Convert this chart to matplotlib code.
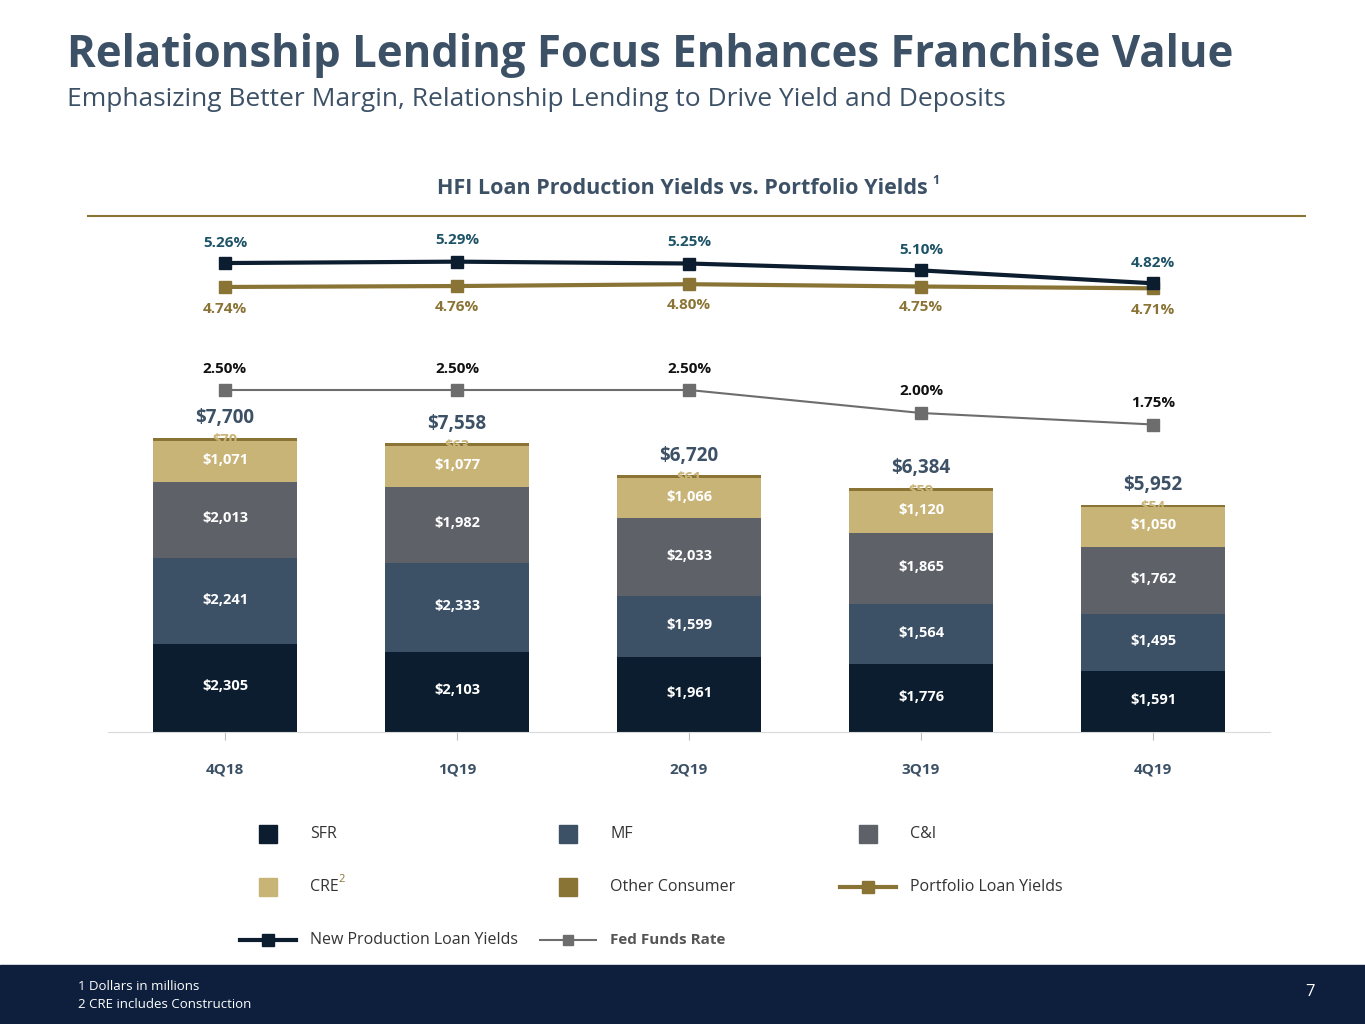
import matplotlib
matplotlib.use("Agg")
import matplotlib.pyplot as plt
from matplotlib.patches import Rectangle
from matplotlib.lines import Line2D

quarters = ["4Q18", "1Q19", "2Q19", "3Q19", "4Q19"]
sfr = [2305, 2103, 1961, 1776, 1591]
mf = [2241, 2333, 1599, 1564, 1495]
cni = [2013, 1982, 2033, 1865, 1762]
cre = [1071, 1077, 1066, 1120, 1050]
other = [70, 63, 61, 59, 54]
totals = [7700, 7558, 6720, 6384, 5952]
new_prod = [5.26, 5.29, 5.25, 5.10, 4.82]
portfolio = [4.74, 4.76, 4.80, 4.75, 4.71]
fed = [2.50, 2.50, 2.50, 2.00, 1.75]

C_SFR = "#0b1d2e"; C_MF = "#3c5066"; C_CNI = "#5e6168"; C_CRE = "#c9b478"; C_OTH = "#8a7435"
C_FED = "#6d6d6d"; C_TITLE = "#3d5166"
W, H = 1365, 1024
fig = plt.figure(figsize=(13.65, 10.24), dpi=100)
fam = ["Open Sans", "DejaVu Sans"]

def px(x, y):
    return x / W, 1 - y / H

fig.text(*px(67, 55), "Relationship Lending Focus Enhances Franchise Value", fontsize=31.5, fontweight="bold", color=C_TITLE, va="center", family=fam)
fig.text(*px(67, 99), "Emphasizing Better Margin, Relationship Lending to Drive Yield and Deposits", fontsize=19, color=C_TITLE, va="center", family=fam)
fig.text(*px(682, 188), "HFI Loan Production Yields vs. Portfolio Yields", fontsize=15.5, fontweight="bold", color=C_TITLE, ha="center", va="center", family=fam)
fig.text(*px(932, 180), "1", fontsize=9, fontweight="bold", color=C_TITLE, va="center", family=fam)
fig.add_artist(Line2D([88 / W, 1305 / W], [1 - 216 / H] * 2, color="#8a7435", lw=1.5))

ax = fig.add_axes([108 / W, 1 - 732 / H, 1162 / W, 532 / H])
xs = list(range(5))
bw = 0.62
ymax = 532 * 7700 / 294
ax.set_xlim(-0.504, 4.504); ax.set_ylim(0, ymax)
bottom = [0] * 5
for vals, col in [(sfr, C_SFR), (mf, C_MF), (cni, C_CNI), (cre, C_CRE), (other, C_OTH)]:
    ax.bar(xs, vals, bw, bottom=bottom, color=col, zorder=2)
    if col != C_OTH:
        for i, v in enumerate(vals):
            ax.text(i, bottom[i] + v / 2 + 40, f"${v:,}", color="white", ha="center", va="center", fontsize=10.5, fontweight="bold", family=fam, zorder=5)
    bottom = [b + v for b, v in zip(bottom, vals)]
for i, t in enumerate(totals):
    ax.text(i, t + 520, f"${t:,}", color=C_TITLE, ha="center", va="center", fontsize=13.5, fontweight="bold", family=fam)
for s in ["top", "left", "right"]:
    ax.spines[s].set_visible(False)
ax.spines["bottom"].set_color("#d9d9d9")
ax.set_yticks([])
ax.set_xticks(xs)
ax.set_xticklabels(quarters, fontsize=11, fontweight="bold", color=C_TITLE, family=fam)
ax.tick_params(axis="x", length=6, color="#bfbfbf", pad=16, direction="out")

ax2 = ax.twinx()
ax2.set_ylim(2.5 - 342 / 46, 2.5 + 190 / 46)
ax2.axis("off")
ax2.plot(xs, new_prod, color=C_SFR, lw=3, marker="s", ms=9, zorder=4)
ax2.plot(xs, portfolio, color=C_OTH, lw=3, marker="s", ms=9, zorder=3)
ax2.plot(xs, fed, color=C_FED, lw=1.5, marker="s", ms=8, zorder=3)
np_dy = [0.44, 0.47, 0.47, 0.44, 0.45]
pf_dy = [0.47, 0.46, 0.45, 0.45, 0.47]
fd_dy = [0.45, 0.45, 0.45, 0.47, 0.47]
for i in range(5):
    ax2.text(i, new_prod[i] + np_dy[i], f"{new_prod[i]:.2f}%", ha="center", va="center", color="#1d5366", fontsize=11, fontweight="bold", family=fam)
    ax2.text(i, portfolio[i] - pf_dy[i], f"{portfolio[i]:.2f}%", ha="center", va="center", color=C_OTH, fontsize=11, fontweight="bold", family=fam)
    ax2.text(i, fed[i] + fd_dy[i], f"{fed[i]:.2f}%", ha="center", va="center", color="#111111", fontsize=11, fontweight="bold", family=fam)
for i, v in enumerate(other):
    ax.text(i, bottom[i] - 60, f"${v:,}", color=C_CRE, ha="center", va="center", fontsize=10.5, fontweight="bold", family=fam, zorder=6)

# legend
def box(x, y, col):
    fig.add_artist(Rectangle(((x - 9) / W, 1 - (y + 9) / H), 18 / W, 18 / H, color=col))
def line(x, y, col, lw, ms):
    fig.add_artist(Line2D([(x - 28) / W, (x + 28) / W], [1 - y / H] * 2, color=col, lw=lw))
    fig.add_artist(Line2D([x / W], [1 - y / H], color=col, marker="s", ms=ms))
def lab(x, y, t, bold=False, col="#333333"):
    fig.text(x / W, 1 - y / H, t, fontsize=11.5, va="center", color=col, family=fam, fontweight="bold" if bold else "normal")
box(268, 834, C_SFR); lab(310, 834, "SFR")
box(568, 834, C_MF); lab(610, 834, "MF")
box(868, 834, C_CNI); lab(910, 834, "C&I")
box(268, 887, C_CRE); lab(310, 887, "CRE")
fig.text(338 / W, 1 - 879 / H, "2", fontsize=8, va="center", color=C_OTH, family=fam)
box(568, 887, C_OTH); lab(610, 887, "Other Consumer")
line(868, 887, C_OTH, 3, 8); lab(910, 887, "Portfolio Loan Yields")
line(268, 940, C_SFR, 3, 8); lab(310, 940, "New Production Loan Yields")
line(568, 940, C_FED, 1.5, 7)
fig.text(610 / W, 1 - 940 / H, "Fed Funds Rate", fontsize=11, va="center", color="#555555", family=fam, fontweight="bold")

fig.add_artist(Rectangle((0, 0), 1, 59 / H, color="#0d1f3c"))
fig.text(78 / W, 1 - 986 / H, "1 Dollars in millions", fontsize=9.5, color="white", va="center", family=fam)
fig.text(78 / W, 1 - 1004 / H, "2 CRE includes Construction", fontsize=9.5, color="white", va="center", family=fam)
fig.text(1310 / W, 1 - 992 / H, "7", fontsize=12, color="white", ha="center", va="center", family=fam)

fig.savefig("out.png", dpi=100)
